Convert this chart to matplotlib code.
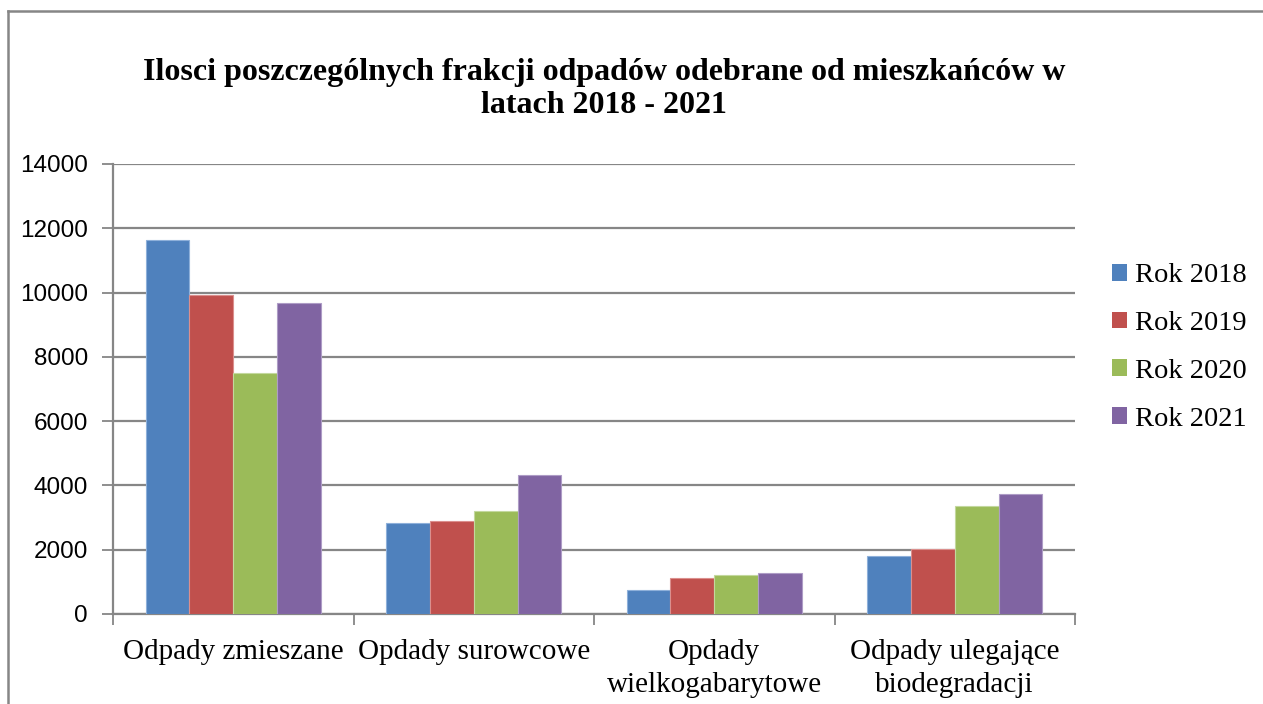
import matplotlib

matplotlib.use("Agg")
import matplotlib.pyplot as plt
from matplotlib.lines import Line2D
from matplotlib.patches import Patch
import numpy as np

# data (tonnes, approx.)
CATEGORIES = ["Odpady zmieszane", "Opdady surowcowe", "Opdady\nwielkogabarytowe",
              "Odpady ulegające\nbiodegradacji"]
SERIES = ["Rok 2018", "Rok 2019", "Rok 2020", "Rok 2021"]
Y2018 = [11640, 2830, 750, 1810]
Y2019 = [9920, 2890, 1120, 2020]
Y2020 = [7500, 3190, 1220, 3370]
Y2021 = [9670, 4320, 1275, 3730]
YTICKS = [0, 2000, 4000, 6000, 8000, 10000, 12000, 14000]

COLORS = ["#4F81BD", "#C0504D", "#9BBB59", "#8064A2"]
EDGES = ["#8EB0DA", "#DB8F8D", "#C3D89E", "#AE9CC6"]
GRID = "#868686"
SERIF = "Liberation Serif"
SANS = "Liberation Sans"

W, H = 1263, 704
fig = plt.figure(figsize=(W / 100, H / 100), dpi=100)
ax = fig.add_axes([113 / W, (H - 614) / H, (1075 - 113) / W, (614 - 164) / H])

x = np.arange(len(CATEGORIES))
bw = 0.182
for i, (vals, c, e, lab) in enumerate(zip([Y2018, Y2019, Y2020, Y2021], COLORS, EDGES, SERIES)):
    ax.bar(x + (i - 1.5) * bw, vals, bw, color=c, edgecolor=e, linewidth=0.8,
           label=lab, zorder=3)

ax.set_xlim(-0.5, len(CATEGORIES) - 0.5)
ax.set_ylim(0, 14000)
ax.set_yticks(YTICKS)
ax.set_yticklabels([str(v) for v in YTICKS], fontsize=17.5, family=SANS)
ax.yaxis.grid(True, color=GRID, linewidth=1.6, zorder=0)
ax.tick_params(axis="y", length=8, width=1.3, color=GRID, pad=10)

# category boundaries carry the tick marks, labels sit between them
ax.set_xticks(np.arange(len(CATEGORIES) + 1) - 0.5)
ax.set_xticklabels([])
ax.tick_params(axis="x", length=8, width=1.3, color=GRID)
ax.set_xticks(x, minor=True)
ax.set_xticklabels(CATEGORIES, minor=True, fontsize=21, family=SERIF, linespacing=1.35)
ax.tick_params(axis="x", which="minor", length=0, pad=18)

for s in ("top", "right"):
    ax.spines[s].set_visible(False)
for s in ("left", "bottom"):
    ax.spines[s].set_color(GRID)
    ax.spines[s].set_linewidth(1.6)

handles = [Patch(facecolor=c, edgecolor="none", label=l) for c, l in zip(COLORS, SERIES)]
fig.legend(handles=handles, loc="upper left", bbox_to_anchor=(1101 / W, 1 - 252 / H),
           frameon=False, prop={"family": SERIF, "size": 20.5}, handlelength=0.53,
           handleheight=0.53, handletextpad=0.28, labelspacing=0.8, borderaxespad=0)

fig.text(604 / W, 1 - 89 / H,
         "Ilosci poszczególnych frakcji odpadów odebrane od mieszkańców w\nlatach 2018 - 2021",
         ha="center", va="center", fontsize=23, fontweight="bold", family=SERIF,
         linespacing=1.2)

# outer chart-area border (top and left edges visible in the reference)
fig.add_artist(Line2D([8 / W, 8 / W], [0, 1 - 11 / H], transform=fig.transFigure,
                      color=GRID, linewidth=1.8))
fig.add_artist(Line2D([8 / W, 1], [1 - 11 / H, 1 - 11 / H], transform=fig.transFigure,
                      color=GRID, linewidth=1.8))

fig.savefig("out.png", dpi=100, facecolor="white")
